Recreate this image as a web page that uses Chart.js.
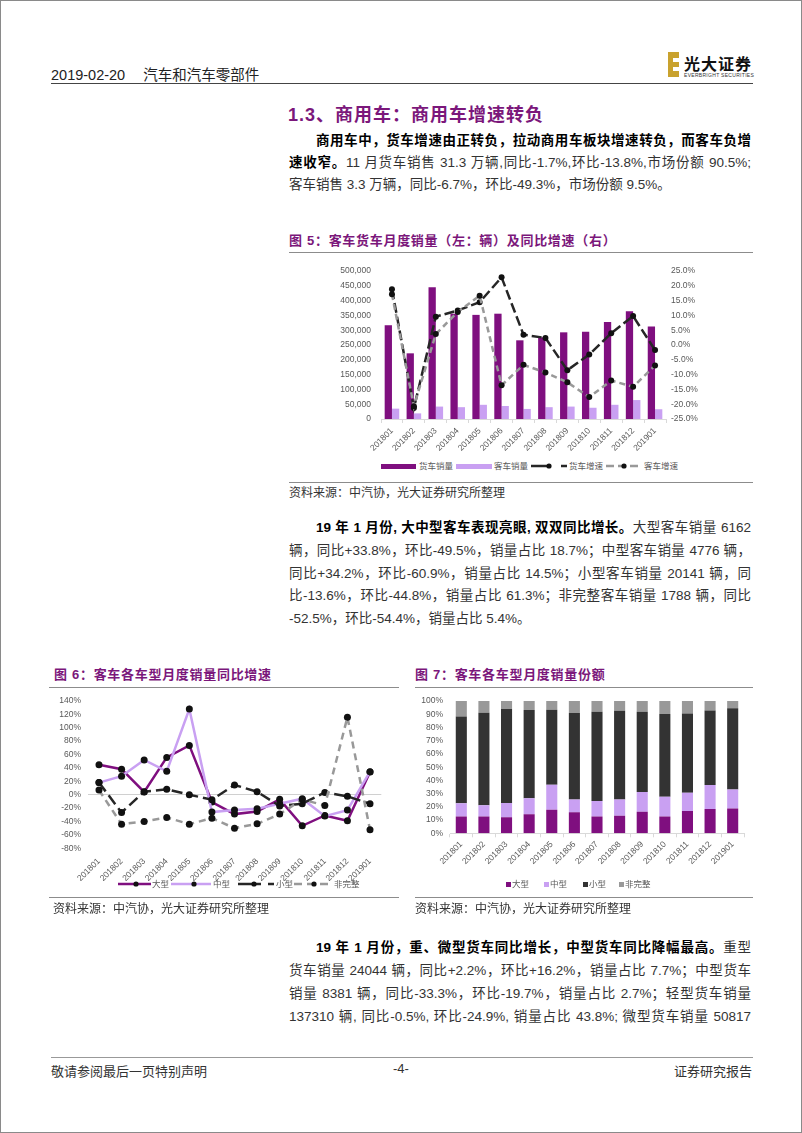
<!DOCTYPE html>
<html>
<head>
<meta charset="utf-8">
<script src="https://cdn.jsdelivr.net/npm/chart.js@4.4.1/dist/chart.umd.min.js"></script>
<style>
  body { margin: 0; background: #fff; }
  #page {
    position: relative; width: 802px; height: 1133px; overflow: hidden;
    border: 1px solid #8a8a8a; box-sizing: border-box; background: #fff;
    font-family: "Liberation Sans", "Noto Sans CJK SC", sans-serif; color: #333;
  }
  .abs { position: absolute; }
  .rule { position: absolute; height: 0; border-top: 1px solid #8c8c8c; }
  .ftitle { position: absolute; font-size: 13px; font-weight: bold; color: #7b177b; letter-spacing: 0.7px; white-space: nowrap; }
  .src { position: absolute; font-size: 12px; color: #333; white-space: nowrap; }
  .para { position: absolute; left: 288px; width: 462px; font-size: 13.5px; }
  .ln { text-align: justify; text-align-last: justify; }
  .ln.last { text-align-last: left; }
  .para b { color: #000; }
  .lg { position: absolute; font-size: 8.5px; color: #595959; white-space: nowrap; line-height: 10px; }
  .lg svg { display: block; }
  canvas { position: absolute; }
</style>
</head>
<body>
<div id="page">
  <!-- header -->
  <div class="abs" style="left:50px;top:62px;font-size:14.5px;color:#222;white-space:nowrap;">2019-02-20<span style="display:inline-block;width:18px"></span>汽车和汽车零部件</div>
  <div class="rule" style="left:50px;top:82px;width:702px;border-top:1.5px solid #444;"></div>
  <div class="abs" style="left:667px;top:51px;width:11px;height:25px;background:#c9a22e;"></div>
  <div class="abs" style="left:672px;top:57px;width:6px;height:4px;background:#fff;"></div>
  <div class="abs" style="left:672px;top:66px;width:6px;height:4px;background:#fff;"></div>
  <div class="abs" style="left:683px;top:50px;font-size:16px;font-weight:bold;color:#111;letter-spacing:1px;white-space:nowrap;">光大证券</div>
  <div class="abs" style="left:683px;top:71px;font-size:5px;color:#333;letter-spacing:0.3px;white-space:nowrap;">EVERBRIGHT SECURITIES</div>

  <!-- section title -->
  <div class="abs" style="left:287px;top:99px;font-size:18px;font-weight:bold;color:#7b177b;letter-spacing:1px;white-space:nowrap;">1.3、商用车：商用车增速转负</div>

  <div class="para" style="top:129px;line-height:22px;">
    <div class="ln" style="text-indent:27px"><b>商用车中，货车增速由正转负，拉动商用车板块增速转负，而客车负增</b></div>
    <div class="ln"><b>速收窄。</b>11 月货车销售 31.3 万辆,同比-1.7%,环比-13.8%,市场份额 90.5%;</div>
    <div class="ln last">客车销售 3.3 万辆，同比-6.7%，环比-49.3%，市场份额 9.5%。</div>
  </div>

  <!-- figure 5 -->
  <div class="ftitle" style="left:288px;top:229px;">图 5：客车货车月度销量（左：辆）及同比增速（右）</div>
  <div class="rule" style="left:288px;top:251px;width:464px;"></div>
  <canvas id="c5" width="440" height="205" style="left:300px;top:255px;"></canvas>
  <div id="lg5"></div>
  <div class="rule" style="left:288px;top:481px;width:464px;"></div>
  <div class="src" style="left:288px;top:482px;">资料来源：中汽协，光大证券研究所整理</div>

  <div class="para" style="top:516px;line-height:22.8px;">
    <div class="ln" style="text-indent:27px"><b>19 年 1 月份, 大中型客车表现亮眼, 双双同比增长。</b>大型客车销量 6162</div>
    <div class="ln">辆，同比+33.8%，环比-49.5%，销量占比 18.7%；中型客车销量 4776 辆，</div>
    <div class="ln">同比+34.2%，环比-60.9%，销量占比 14.5%；小型客车销量 20141 辆，同</div>
    <div class="ln">比-13.6%，环比-44.8%，销量占比 61.3%；非完整客车销量 1788 辆，同比</div>
    <div class="ln last">-52.5%，环比-54.4%，销量占比 5.4%。</div>
  </div>

  <!-- figure 6 -->
  <div class="ftitle" style="left:53px;top:663px;">图 6：客车各车型月度销量同比增速</div>
  <div class="rule" style="left:48px;top:686px;width:350px;"></div>
  <canvas id="c6" width="350" height="192" style="left:48px;top:688px;"></canvas>
  <div id="lg6"></div>
  <div class="rule" style="left:48px;top:896px;width:350px;"></div>
  <div class="src" style="left:52px;top:898px;">资料来源：中汽协，光大证券研究所整理</div>

  <!-- figure 7 -->
  <div class="ftitle" style="left:414px;top:663px;">图 7：客车各车型月度销量份额</div>
  <div class="rule" style="left:414px;top:686px;width:338px;"></div>
  <canvas id="c7" width="347" height="192" style="left:405px;top:688px;"></canvas>
  <div id="lg7"></div>
  <div class="rule" style="left:414px;top:896px;width:338px;"></div>
  <div class="src" style="left:414px;top:898px;">资料来源：中汽协，光大证券研究所整理</div>

  <div class="para" style="top:935px;line-height:23px;">
    <div class="ln" style="text-indent:27px"><b>19 年 1 月份，重、微型货车同比增长，中型货车同比降幅最高。</b>重型</div>
    <div class="ln">货车销量 24044 辆，同比+2.2%，环比+16.2%，销量占比 7.7%；中型货车</div>
    <div class="ln">销量 8381 辆，同比-33.3%，环比-19.7%，销量占比 2.7%；轻型货车销量</div>
    <div class="ln">137310 辆, 同比-0.5%, 环比-24.9%, 销量占比 43.8%; 微型货车销量 50817</div>
  </div>

  <!-- footer -->
  <div class="rule" style="left:50px;top:1056px;width:702px;border-top:1.5px solid #999;"></div>
  <div class="abs" style="left:50px;top:1060px;font-size:13px;color:#333;white-space:nowrap;">敬请参阅最后一页特别声明</div>
  <div class="abs" style="left:392px;top:1060px;font-size:13px;color:#333;">-4-</div>
  <div class="abs" style="right:49px;top:1060px;font-size:13px;color:#333;white-space:nowrap;">证券研究报告</div>
</div>

<script>
// months on all three charts
const months = ["201801", "201802", "201803", "201804", "201805", "201806", "201807",
                "201808", "201809", "201810", "201811", "201812", "201901"];

// fig 5: monthly sales (left, units) and yoy (right, %)
const truckSales = [317000, 222000, 445000, 356000, 352000, 356000, 266000, 276000, 293000, 295000, 328000, 364000, 313000];
const busSales = [35000, 19000, 42000, 40000, 48000, 44000, 34000, 40000, 42000, 38000, 48000, 64000, 33000];
const truckYoY = [18.9, -21.3, 9.6, 11.7, 14.5, 22.9, 3.5, 2.4, -8.5, -3.2, 4.0, 9.8, -1.7];
const busYoY = [17.2, -20.7, 3.7, 11.2, 16.7, -13.6, -6.7, -9.3, -12.6, -17.6, -12.0, -14.1, -6.9];

// fig 6: bus yoy by type (%)
const largeYoY = [44.5, 38, 4, 55.6, 73.5, -11, -29, -25, -7, -46.4, -31, -39, 33.8];
const mediumYoY = [18, 27.5, 51.7, 34.8, 127.7, -26, -23, -21, -13.5, -6, -32, -23, 34.2];
const smallYoY = [18, -26.6, 4.4, 8, 0, -7.5, 14.5, 4.4, -17, -13.5, 3.4, -2.5, -13.6];
const incompleteYoY = [6.8, -44, -40, -34, -44, -35, -50, -43.5, -29, -7.3, -16, 115.6, -52.5];

// fig 7: bus share by type (%)
const largeShare = [12.7, 12.7, 12.2, 14.4, 17.8, 15.9, 12.7, 13.2, 16.3, 12.7, 16.8, 18.3, 18.7];
const mediumShare = [10.0, 8.5, 10.7, 12.2, 19.0, 9.7, 11.7, 12.4, 14.9, 14.9, 13.9, 18.3, 14.5];
const smallShare = [65.6, 70.0, 71.2, 66.6, 56.6, 65.4, 67.6, 67.1, 60.8, 62.6, 60.0, 56.3, 61.3];
const incompleteShare = [11.7, 8.8, 5.9, 6.8, 6.6, 9.0, 8.0, 7.3, 8.0, 9.8, 9.3, 7.1, 5.5];

const PURPLE = "#7f0f7f";
const LILAC = "#c9a0f2";
const BLACK = "#262626";
const DARK = "#333333";
const GRAY = "#999999";

Chart.defaults.font.family = '"Liberation Sans", "Noto Sans CJK SC", sans-serif';
Chart.defaults.font.size = 8.5;
Chart.defaults.color = "#595959";
Chart.defaults.animation = false;
Chart.defaults.plugins.legend.display = false;
Chart.defaults.plugins.tooltip.enabled = false;

const dot = { pointRadius: 3, pointBackgroundColor: "#111", pointBorderWidth: 0, tension: 0, fill: false };

// ---- fig 5 ----
new Chart(document.getElementById("c5"), {
  type: "bar",
  data: {
    labels: months,
    datasets: [
      { label: "货车销量", data: truckSales, backgroundColor: PURPLE, yAxisID: "y", order: 3,
        barPercentage: 1, categoryPercentage: 0.665 },
      { label: "客车销量", data: busSales, backgroundColor: LILAC, yAxisID: "y", order: 3,
        barPercentage: 1, categoryPercentage: 0.665 },
      { type: "line", label: "货车增速", data: truckYoY, yAxisID: "y1", order: 2,
        borderColor: BLACK, borderWidth: 2.5, borderDash: [10, 4], ...dot },
      { type: "line", label: "客车增速", data: busYoY, yAxisID: "y1", order: 1,
        borderColor: GRAY, borderWidth: 2.5, borderDash: [6, 4], ...dot }
    ]
  },
  options: {
    responsive: false,
    layout: { padding: { top: 7 } },
    scales: {
      x: {
        grid: { drawOnChartArea: false, color: "#d9d9d9", tickLength: 4 },
        border: { color: "#d9d9d9" },
        ticks: { minRotation: 45, maxRotation: 45, autoSkip: false, padding: 3 },
        afterFit(s) { s.height = 42; }
      },
      y: {
        position: "left", min: 0, max: 500000,
        grid: { display: false, drawTicks: false }, border: { display: false },
        ticks: { stepSize: 50000, padding: 10, callback: v => v.toLocaleString("en-US") },
        afterFit(s) { s.width = 80; }
      },
      y1: {
        position: "right", min: -25, max: 25,
        grid: { display: false, drawTicks: false }, border: { display: false },
        ticks: { stepSize: 5, padding: 5, callback: v => v.toFixed(1) + "%" },
        afterFit(s) { s.width = 75; }
      }
    }
  }
});

// ---- fig 6 ----
new Chart(document.getElementById("c6"), {
  type: "line",
  data: {
    labels: months,
    datasets: [
      { label: "非完整", data: incompleteYoY, borderColor: GRAY, borderWidth: 2.5, borderDash: [7, 5], ...dot, pointRadius: 3.5 },
      { label: "小型", data: smallYoY, borderColor: BLACK, borderWidth: 2.5, borderDash: [11, 5], ...dot, pointRadius: 3.5 },
      { label: "中型", data: mediumYoY, borderColor: LILAC, borderWidth: 2.5, ...dot, pointRadius: 3.5 },
      { label: "大型", data: largeYoY, borderColor: PURPLE, borderWidth: 2.5, ...dot, pointRadius: 3.5 }
    ]
  },
  options: {
    responsive: false,
    layout: { padding: { top: 7.7, right: 17.7 } },
    scales: {
      x: {
        offset: true,
        grid: { display: false, drawTicks: false }, border: { display: false },
        ticks: { minRotation: 45, maxRotation: 45, autoSkip: false, padding: 8 },
        afterFit(s) { s.height = 32.7; }
      },
      y: {
        min: -80, max: 140,
        grid: { color: c => (c.tick && c.tick.value === 0 ? "#d0d0d0" : "rgba(0,0,0,0)"), drawTicks: false, lineWidth: 1 },
        border: { display: false },
        ticks: { stepSize: 20, padding: 6.7, callback: v => v + "%" },
        afterFit(s) { s.width = 38.7; }
      }
    }
  }
});

// ---- fig 7 ----
const shareSets = [
  ["大型", largeShare, PURPLE],
  ["中型", mediumShare, LILAC],
  ["小型", smallShare, DARK],
  ["非完整", incompleteShare, GRAY]
];
new Chart(document.getElementById("c7"), {
  type: "bar",
  data: {
    labels: months,
    datasets: shareSets.map(([label, data, color]) => ({
      label, data, backgroundColor: color, barPercentage: 0.49, categoryPercentage: 1
    }))
  },
  options: {
    responsive: false,
    layout: { padding: { top: 7.7, right: 9 } },
    scales: {
      x: {
        stacked: true,
        grid: { drawOnChartArea: false, color: "#d9d9d9", tickLength: 4 },
        border: { color: "#d9d9d9" },
        ticks: { minRotation: 45, maxRotation: 45, autoSkip: false, padding: 2 },
        afterFit(s) { s.height = 47.7; }
      },
      y: {
        stacked: true, min: 0, max: 100,
        grid: { display: false, drawTicks: false }, border: { display: false },
        ticks: { stepSize: 10, padding: 7, callback: v => v + "%" },
        afterFit(s) { s.width = 44; }
      }
    }
  }
});

// ---- legends (html) ----
function sample(s) {
  if (s.kind === "rect") {
    return `<span style="display:block;width:${s.w}px;height:${s.h}px;background:${s.color}"></span>`;
  }
  const dash = s.dash ? `stroke-dasharray="${s.dash}"` : "";
  return `<svg width="${s.w}" height="8"><line x1="0" y1="4" x2="${s.w}" y2="4" stroke="${s.color}" stroke-width="2.5" ${dash}/>` +
         `<circle cx="${s.dot}" cy="4" r="2.6" fill="#111"/></svg>`;
}
function legend(id, cy, items) {
  const host = document.getElementById(id);
  items.forEach(it => {
    const sw = document.createElement("div");
    sw.className = "lg";
    const h = it.s.kind === "rect" ? it.s.h : 8;
    sw.style.left = it.x + "px";
    sw.style.top = (cy - h / 2) + "px";
    sw.innerHTML = sample(it.s);
    host.appendChild(sw);
    const tx = document.createElement("div");
    tx.className = "lg";
    tx.style.left = it.tx + "px";
    tx.style.top = (cy - 5) + "px";
    tx.textContent = it.label;
    host.appendChild(tx);
  });
}

legend("lg5", 465, [
  { x: 380, tx: 418, label: "货车销量", s: { kind: "rect", w: 35, h: 5, color: PURPLE } },
  { x: 455, tx: 493, label: "客车销量", s: { kind: "rect", w: 36, h: 5, color: LILAC } },
  { x: 530, tx: 568, label: "货车增速", s: { kind: "line", w: 36, color: BLACK, dash: "20 10", dot: 18 } },
  { x: 605, tx: 643, label: "客车增速", s: { kind: "line", w: 35, color: GRAY, dash: "8 4", dot: 18 } }
]);

legend("lg6", 883, [
  { x: 117, tx: 151, label: "大型", s: { kind: "line", w: 33, color: PURPLE, dot: 18 } },
  { x: 170, tx: 212, label: "中型", s: { kind: "line", w: 40, color: LILAC, dot: 23 } },
  { x: 237, tx: 275, label: "小型", s: { kind: "line", w: 36, color: BLACK, dash: "23 7", dot: 16 } },
  { x: 293, tx: 333, label: "非完整", s: { kind: "line", w: 37, color: GRAY, dash: "8 5", dot: 20 } }
]);

legend("lg7", 883, [
  { x: 505, tx: 511, label: "大型", s: { kind: "rect", w: 5, h: 5, color: PURPLE } },
  { x: 543, tx: 549, label: "中型", s: { kind: "rect", w: 5, h: 5, color: LILAC } },
  { x: 582, tx: 588, label: "小型", s: { kind: "rect", w: 5, h: 5, color: DARK } },
  { x: 618, tx: 624, label: "非完整", s: { kind: "rect", w: 5, h: 5, color: GRAY } }
]);
</script>
</body>
</html>
